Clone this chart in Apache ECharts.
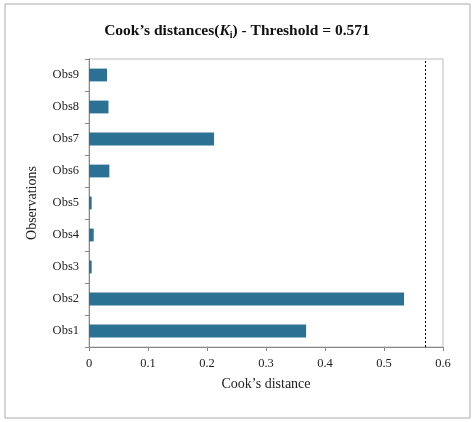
<!DOCTYPE html>
<html>
<head>
<meta charset="utf-8">
<title>Cook's distances</title>
<script src="https://cdn.jsdelivr.net/npm/echarts@6/dist/echarts.min.js"></script>
<style>
	html, body { margin: 0; padding: 0; background: #fff; }
	#main { position: absolute; left: 0; top: 0; width: 474px; height: 422px; }
</style>
</head>
<body>
<div id="main"></div>
<script type="text/javascript">
	// data
	var categories = ['Obs1', 'Obs2', 'Obs3', 'Obs4', 'Obs5', 'Obs6', 'Obs7', 'Obs8', 'Obs9'];
	var cookValues = [0.368, 0.534, 0.0045, 0.008, 0.0045, 0.0345, 0.212, 0.033, 0.0305];
	var threshold = 0.571;

	var serif = 'Liberation Serif';
	var myChart = echarts.init(document.getElementById('main'));
	var option = {
		backgroundColor: '#fff',
		animation: false,
		title: {
			text: 'Cook\u2019s distances({i|K}{s|i}) - Threshold = 0.571',
			left: 'center',
			top: 17,
			textStyle: {
				fontFamily: serif, fontWeight: 'bold', fontSize: 15.5, color: '#111',
				rich: {
					i: { fontFamily: serif, fontWeight: 'bold', fontStyle: 'italic', fontSize: 15.5, color: '#111' },
					s: { fontFamily: serif, fontWeight: 'bold', fontSize: 10, color: '#111', padding: [8, 0, 0, 0] }
				}
			}
		},
		graphic: [{
			type: 'rect',
			shape: { x: 5, y: 4, width: 465, height: 414 },
			style: { fill: 'none', stroke: '#aaa', lineWidth: 1 }
		}],
		grid: { left: 89, right: 31, top: 59, bottom: 75, show: true, borderColor: '#bbb', borderWidth: 1 },
		xAxis: {
			type: 'value', min: 0, max: 0.6, interval: 0.1,
			name: 'Cook\u2019s distance', nameLocation: 'middle', nameGap: 30,
			nameTextStyle: { fontFamily: serif, fontSize: 14, color: '#222' },
			axisLine: { show: true, lineStyle: { color: '#888' } },
			axisTick: { show: true, length: 4, lineStyle: { color: '#888' } },
			splitLine: { show: false },
			axisLabel: { fontFamily: serif, fontSize: 12.5, color: '#222', margin: 10 }
		},
		yAxis: {
			type: 'category', data: categories,
			name: 'Observations', nameLocation: 'middle', nameGap: 50, nameRotate: 90,
			nameTextStyle: { fontFamily: serif, fontSize: 14, color: '#222' },
			axisLine: { show: true, lineStyle: { color: '#888' } },
			axisTick: { show: true, length: 4, lineStyle: { color: '#888' } },
			axisLabel: { fontFamily: serif, fontSize: 12.5, color: '#222', margin: 10 }
		},
		series: [{
			type: 'bar',
			data: cookValues,
			barWidth: '40%',
			itemStyle: { color: '#2a7193' },
			markLine: {
				silent: true, symbol: 'none',
				label: { show: false },
				lineStyle: { color: '#000', type: [2, 2], width: 1 },
				data: [{ xAxis: threshold }]
			}
		}]
	};
	myChart.setOption(option);
</script>
</body>
</html>
